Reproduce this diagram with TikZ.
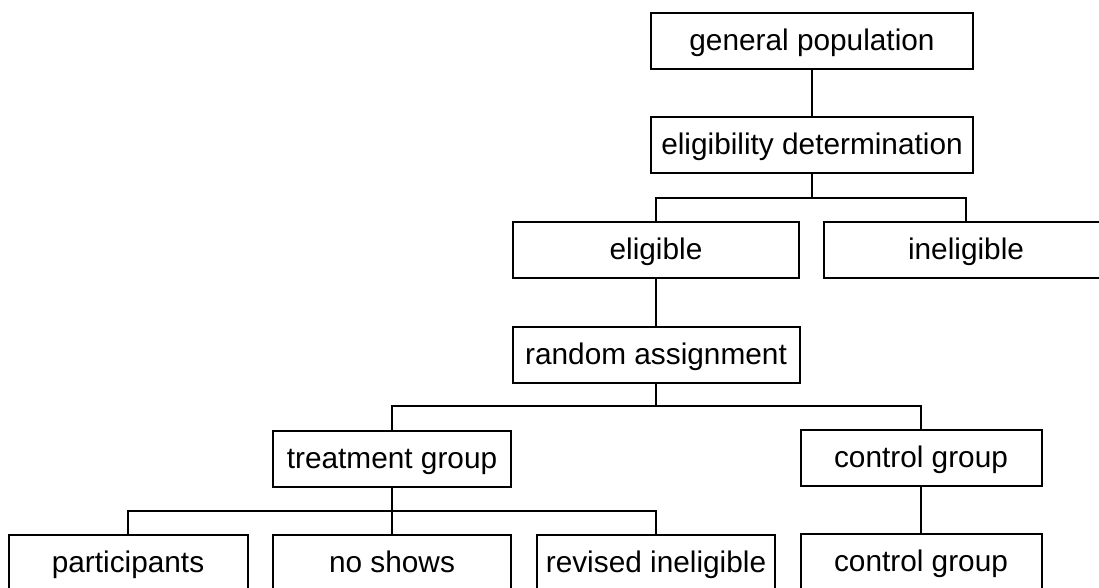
\documentclass[tikz,border=0pt]{standalone}
\usepackage{fontspec}
\setmainfont{Liberation Sans}
\tikzset{
  boxnode/.style={draw, line width=2pt, rectangle, inner sep=0pt, minimum height=56pt,
    text height=24pt, text depth=6pt,
    font=\fontsize{29.8}{34}\selectfont, align=center},
  link/.style={line width=2.2pt, line join=miter}
}
\begin{document}
\begin{tikzpicture}[x=1pt,y=-1pt]
\clip (0,0) rectangle (1099,587);
\fill[white] (0,0) rectangle (1099,587);
\node[boxnode, minimum width=322pt] (gp) at (812,41) {general population};
\node[boxnode, minimum width=322pt] (ed) at (812,145) {eligibility determination};
\node[boxnode, minimum width=286pt] (el) at (656,250) {eligible};
\node[boxnode, minimum width=284pt] (in) at (966,250) {ineligible};
\node[boxnode, minimum width=287pt] (ra) at (656,355) {random assignment};
\node[boxnode, minimum width=238pt] (tg) at (392,459) {treatment group};
\node[boxnode, minimum width=241pt] (cg) at (921,458) {control group};
\node[boxnode, minimum width=239pt] (pa) at (128,563) {participants};
\node[boxnode, minimum width=238pt] (ns) at (392,563) {no shows};
\node[boxnode, minimum width=238pt] (ri) at (656,563) {revised ineligible};
\node[boxnode, minimum width=241pt] (cg2) at (921,562) {control group};
\coordinate (b1) at (812,198);
\coordinate (b2) at (656,406);
\coordinate (b3) at (392,511);
\draw[link] (gp.south) -- (ed.north);
\draw[link] (ed.south) -- (b1);
\draw[link] (el.north) |- (b1) -| (in.north);
\draw[link] (el.south) -- (ra.north);
\draw[link] (ra.south) -- (b2);
\draw[link] (tg.north) |- (b2) -| (cg.north);
\draw[link] (tg.south) -- (b3);
\draw[link] (pa.north) |- (b3) -| (ri.north);
\draw[link] (b3) -- (ns.north);
\draw[link] (cg.south) -- (cg2.north);
\end{tikzpicture}
\end{document}
